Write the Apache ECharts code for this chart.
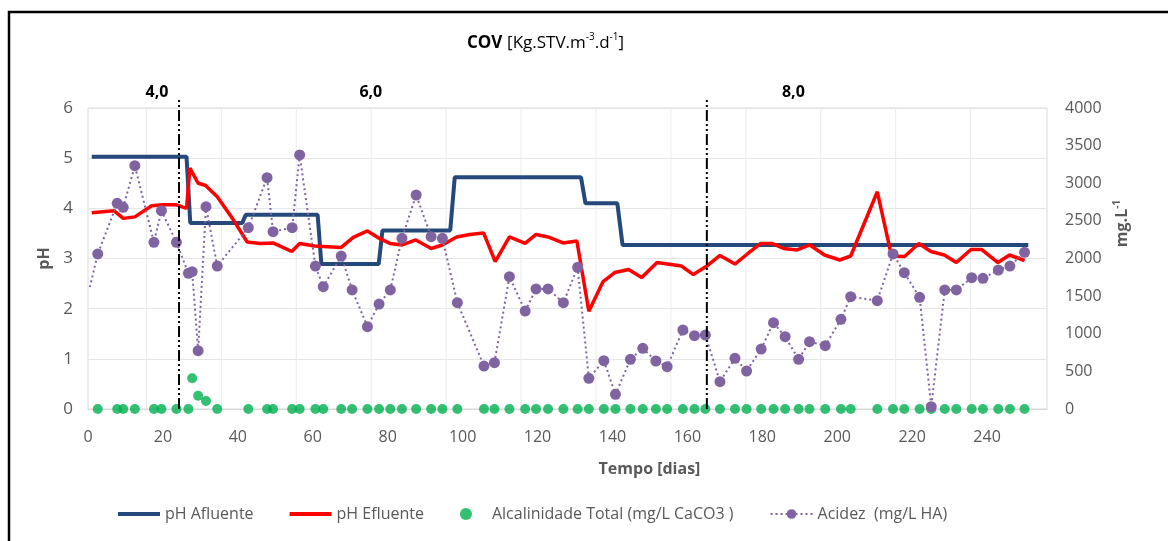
<!DOCTYPE html>
<html>
<head>
<meta charset="utf-8">
<script src="https://cdn.jsdelivr.net/npm/echarts@6/dist/echarts.min.js"></script>
<style>
  html, body { margin: 0; padding: 0; background: #ffffff; }
  #chart { width: 1168px; height: 541px; }
</style>
</head>
<body>
<div id="chart"></div>
<script>
// ---- Dados ----
// pH do afluente: [dia, pH]
const phAfluente = [
  [1, 5.03], [26.3, 5.03], [27.3, 3.71], [41.2, 3.71], [42.1, 3.87], [61.3, 3.87],
  [62.3, 2.89], [77.6, 2.89], [78.6, 3.56], [96.7, 3.56], [97.9, 4.62], [131.6, 4.62],
  [132.8, 4.1], [141.3, 4.1], [142.7, 3.27], [251, 3.27]
];

// pH do efluente: [dia, pH]
const phEfluente = [
  [1, 3.91], [7, 3.95], [9.4, 3.80], [12.5, 3.83], [17, 4.05], [20, 4.07], [23.6, 4.07],
  [26.3, 4.0], [27.2, 4.80], [29.4, 4.50], [31.3, 4.46], [34.5, 4.23], [38.8, 3.77],
  [42.5, 3.33], [46, 3.30], [49.4, 3.31], [54.4, 3.14], [56.5, 3.30], [60.5, 3.25],
  [67.6, 3.22], [70.8, 3.42], [74.6, 3.55], [77.8, 3.40], [80.6, 3.30], [83.9, 3.27],
  [87.5, 3.37], [91.6, 3.20], [94.6, 3.27], [98.4, 3.43], [101.9, 3.48], [105.6, 3.51],
  [108.7, 2.94], [112.5, 3.43], [116.7, 3.30], [119.6, 3.48], [122.8, 3.43], [126.8, 3.31],
  [130.5, 3.35], [133.7, 1.95], [137.5, 2.54], [140.6, 2.72], [144.3, 2.78], [147.8, 2.62],
  [151.9, 2.92], [158.4, 2.85], [161.6, 2.68], [165, 2.84], [168.7, 3.06], [172.7, 2.89],
  [176, 3.09], [179.6, 3.30], [182.5, 3.30], [185.7, 3.20], [189.3, 3.17], [192.7, 3.27],
  [196.6, 3.07], [200.7, 2.97], [203.6, 3.05], [210.7, 4.33], [214.5, 3.05], [218, 3.04],
  [221.8, 3.30], [225, 3.14], [228.6, 3.07], [231.8, 2.92], [235.7, 3.18], [238.5, 3.18],
  [242.9, 2.92], [246, 3.07], [250, 2.96]
];

// Dias das análises de acidez e alcalinidade
const diasAnalise = [
  0.5, 2.6, 7.8, 9.4, 12.5, 17.6, 19.6, 23.6, 26.8, 27.8, 29.4, 31.5, 34.5, 42.8, 47.8,
  49.4, 54.5, 56.5, 60.7, 62.8, 67.6, 70.5, 74.6, 77.7, 80.7, 83.8, 87.6, 91.6, 94.6,
  98.6, 105.7, 108.5, 112.5, 116.7, 119.6, 122.8, 126.9, 130.7, 133.7, 137.7, 140.8,
  144.8, 148.1, 151.6, 154.6, 158.8, 161.9, 164.8, 168.7, 172.7, 175.8, 179.7, 183,
  186.1, 189.7, 192.6, 196.8, 201, 203.6, 210.7, 214.9, 217.9, 222, 225.1, 228.7,
  231.8, 235.9, 238.9, 243, 246.1, 250
];

// Acidez (mg/L HA), um valor por dia de análise
const acidez = [
  1620, 2060, 2734, 2680, 3234, 2215, 2636, 2215, 1803, 1825, 775, 2689, 1900, 2410, 3074,
  2357, 2410, 3376, 1900, 1625, 2033, 1582, 1094, 1395, 1582, 2268, 2844, 2290, 2268,
  1413, 571, 616, 1758, 1302, 1595, 1595, 1413, 1883, 408, 642, 195,
  660, 807, 638, 562, 1050, 974, 983, 363, 674, 505, 797, 1147,
  961, 660, 894, 841, 1192, 1493, 1439, 2060, 1811, 1484, 30, 1582,
  1582, 1745, 1737, 1847, 1900, 2082
];

// Alcalinidade total (mg/L CaCO3), a partir do segundo dia de análise
const alcalinidade = [
  0, 0, 0, 0, 0, 0, 0, 0, 408, 177, 106, 0, 0, 0,
  0, 0, 0, 0, 0, 0, 0, 0, 0, 0, 0, 0, 0, 0,
  0, 0, 0, 0, 0, 0, 0, 0, 0, 0, 0, 0,
  0, 0, 0, 0, 0, 0, 0, 0, 0, 0, 0, 0,
  0, 0, 0, 0, 0, 0, 0, 0, 0, 0, 0, 0,
  0, 0, 0, 0, 0, 0
];

// Carga orgânica volumétrica: dias de mudança e rótulos de cada fase
const mudancasCOV = [24.3, 165.2];
const rotulosCOV = ['4,0', '6,0', '8,0'];
const diasRotulosCOV = [18.4, 75.5, 188.3];

// ---- Gráfico ----
const FONT = "'Open Sans', sans-serif";
const GREY = '#595959';
const LINE_ICON = 'path://M0,0 L42,0 L42,4 L0,4 Z';

// Linhas de grade verticais (deslocadas das marcas do eixo)
const gradeVertical = [];
for (let d = 15.6; d < 250; d += 20) gradeVertical.push([d, 0]);

const acidezData = diasAnalise.map((d, i) =>
  i === 0 ? { value: [d, acidez[i]], symbol: 'none' } : [d, acidez[i]]);
const alcalinidadeData = diasAnalise.slice(1).map((d, i) => [d, alcalinidade[i]]);

const chart = echarts.init(document.getElementById('chart'), null, { renderer: 'canvas' });

chart.setOption({
  animation: false,
  backgroundColor: '#ffffff',
  textStyle: { fontFamily: FONT },
  title: {
    text: '{b|COV} {n|[Kg.STV.m}{s|-3}{n|.d}{s|-1}{n|]}',
    left: 462,
    top: 27,
    textStyle: {
      rich: {
        b: { fontFamily: FONT, fontWeight: 'bold', fontSize: 17, color: '#000', lineHeight: 22 },
        n: { fontFamily: FONT, fontWeight: 'normal', fontSize: 17, color: '#000', lineHeight: 22 },
        s: { fontFamily: FONT, fontWeight: 'normal', fontSize: 10, color: '#000', lineHeight: 22, verticalAlign: 'top' }
      }
    }
  },
  graphic: [{
    type: 'rect',
    shape: { x: 9, y: 12, width: 1300, height: 700 },
    style: { fill: 'none', stroke: '#000', lineWidth: 2.5 },
    silent: true
  }],
  legend: {
    left: 113,
    top: 501,
    itemWidth: 42,
    itemHeight: 12,
    itemGap: 36,
    textStyle: { fontFamily: FONT, fontSize: 16, color: GREY },
    data: [
      { name: 'pH Afluente', icon: LINE_ICON },
      { name: 'pH Efluente', icon: LINE_ICON },
      { name: 'Alcalinidade Total (mg/L CaCO3 )' },
      { name: 'Acidez  (mg/L HA)' }
    ]
  },
  grid: {
    left: 88, right: 121, top: 108, bottom: 132,
    show: true, borderColor: '#D9D9D9', borderWidth: 1
  },
  xAxis: {
    type: 'value',
    min: 0, max: 256, interval: 20,
    name: 'Tempo [dias]',
    nameLocation: 'middle',
    nameGap: 52,
    nameTextStyle: { fontFamily: FONT, fontWeight: 'bold', fontSize: 16, color: GREY, padding: [0, 0, 0, 164] },
    axisLine: { show: true, lineStyle: { color: '#D9D9D9' } },
    axisTick: { show: false },
    splitLine: { show: false },
    axisLabel: {
      fontFamily: FONT, fontSize: 16, color: GREY, margin: 20,
      showMaxLabel: false,
      formatter: v => (v % 20 === 0 && v <= 240 ? String(v) : '')
    }
  },
  yAxis: [{
    type: 'value',
    min: 0, max: 6, interval: 1,
    name: 'pH',
    nameLocation: 'middle',
    nameRotate: 90,
    nameGap: 34,
    nameTextStyle: { fontFamily: FONT, fontWeight: 'bold', fontSize: 16, color: GREY },
    axisLine: { show: false },
    axisTick: { show: false },
    splitLine: { show: true, lineStyle: { color: '#E6E6E6', width: 1 } },
    axisLabel: { fontFamily: FONT, fontSize: 17, color: GREY, margin: 15 }
  }, {
    type: 'value',
    min: 0, max: 4000, interval: 500,
    name: '{n|mg.L}{s|-1}',
    nameLocation: 'middle',
    nameRotate: 90,
    nameGap: 64,
    nameTextStyle: {
      padding: [0, 0, 0, 70],
      rich: {
        n: { fontFamily: FONT, fontWeight: 'bold', fontSize: 16, color: GREY, lineHeight: 20 },
        s: { fontFamily: FONT, fontWeight: 'bold', fontSize: 10, color: GREY, lineHeight: 20, verticalAlign: 'top' }
      }
    },
    axisLine: { show: false },
    axisTick: { show: false },
    splitLine: { show: false },
    axisLabel: { fontFamily: FONT, fontSize: 16, color: GREY, margin: 18, formatter: v => String(v) }
  }],
  series: [
    {
      type: 'custom',
      name: 'grade',
      silent: true,
      z: 0,
      data: gradeVertical,
      encode: { x: 0, y: 1 },
      renderItem: (params, api) => {
        const d = api.value(0);
        const a = api.coord([d, 0]);
        const b = api.coord([d, 6]);
        return { type: 'line', shape: { x1: a[0], y1: a[1], x2: b[0], y2: b[1] },
                 style: { stroke: '#EBEBEB', lineWidth: 1 } };
      }
    },
    {
      name: 'pH Afluente',
      type: 'line',
      data: phAfluente,
      symbol: 'none',
      z: 3,
      color: '#24497A',
      lineStyle: { color: '#24497A', width: 4 }
    },
    {
      name: 'pH Efluente',
      type: 'line',
      data: phEfluente,
      symbol: 'none',
      z: 4,
      color: '#FF0000',
      lineStyle: { color: '#FF0000', width: 3.5 }
    },
    {
      name: 'Alcalinidade Total (mg/L CaCO3 )',
      type: 'scatter',
      yAxisIndex: 1,
      data: alcalinidadeData,
      symbol: 'circle',
      symbolSize: 10,
      z: 5,
      color: '#00B050',
      itemStyle: { color: '#00B050' }
    },
    {
      name: 'Acidez  (mg/L HA)',
      type: 'line',
      yAxisIndex: 1,
      data: acidezData,
      symbol: 'circle',
      symbolSize: 11,
      showAllSymbol: true,
      z: 6,
      color: '#8064A2',
      itemStyle: { color: '#8064A2' },
      lineStyle: { color: '#8064A2', width: 2, type: [2, 3] }
    },
    {
      type: 'custom',
      name: 'mudancasCOV',
      silent: true,
      z: 8,
      clip: false,
      data: mudancasCOV.map(d => [d, 0]),
      encode: { x: 0, y: 1 },
      renderItem: (params, api) => {
        const d = api.value(0);
        const a = api.coord([d, 0]);
        const b = api.coord([d, 6]);
        return { type: 'line', shape: { x1: a[0], y1: a[1], x2: b[0], y2: b[1] - 11 },
                 style: { stroke: '#000', lineWidth: 2, lineDash: [11, 3, 2, 3, 2, 3] } };
      }
    },
    {
      type: 'custom',
      name: 'rotulosCOV',
      silent: true,
      z: 8,
      clip: false,
      data: diasRotulosCOV.map((d, i) => [d, 6, i]),
      encode: { x: 0, y: 1 },
      renderItem: (params, api) => {
        const p = api.coord([api.value(0), 6]);
        return { type: 'text', x: p[0], y: p[1] - 16,
                 style: { text: rotulosCOV[api.value(2)], fontFamily: FONT, fontWeight: 'bold',
                          fontSize: 16, fill: '#000', align: 'center', verticalAlign: 'middle' } };
      }
    }
  ]
});
</script>
</body>
</html>
